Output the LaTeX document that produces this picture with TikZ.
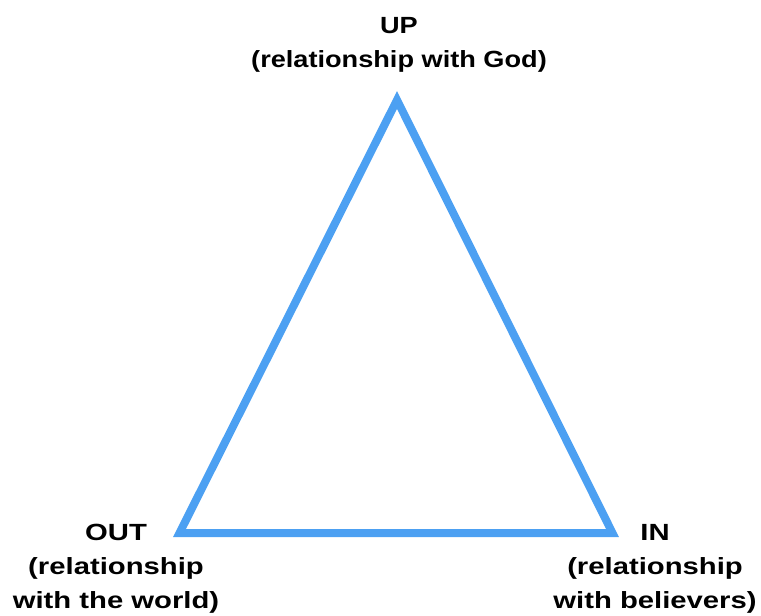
\documentclass[tikz,border=0pt]{standalone}
\usepackage{fontspec}
\setmainfont{Liberation Sans}
\usepackage{graphicx}
\definecolor{triblue}{RGB}{76,160,242}
\newcommand{\lblbox}[2]{\scalebox{#1}[1]{\begin{tabular}{@{}c@{}}#2\end{tabular}}}
\begin{document}
\begin{tikzpicture}[x=1bp,y=-1bp,
  lbl/.style={inner sep=0pt,font=\fontsize{23.4bp}{34bp}\selectfont\bfseries,anchor=north},
  side/.style={draw=triblue,line width=8bp,line join=miter}]
\useasboundingbox (0,0) rectangle (761,616);
\coordinate (apex) at (397,100);
\coordinate (bl) at (179.5,533);
\coordinate (br) at (612.5,533);
\draw[side] (bl) -- (apex) -- (br) -- cycle;
\node[lbl] (up) at (399,9.5) {\lblbox{1.16}{UP\\(relationship with God)}};
\node[lbl] (out) at (116,516.2) {\lblbox{1.25}{OUT\\(relationship\\with the world)}};
\node[lbl] (in) at (655,516.2) {\lblbox{1.25}{IN\\(relationship\\with believers)}};
\end{tikzpicture}
\end{document}
